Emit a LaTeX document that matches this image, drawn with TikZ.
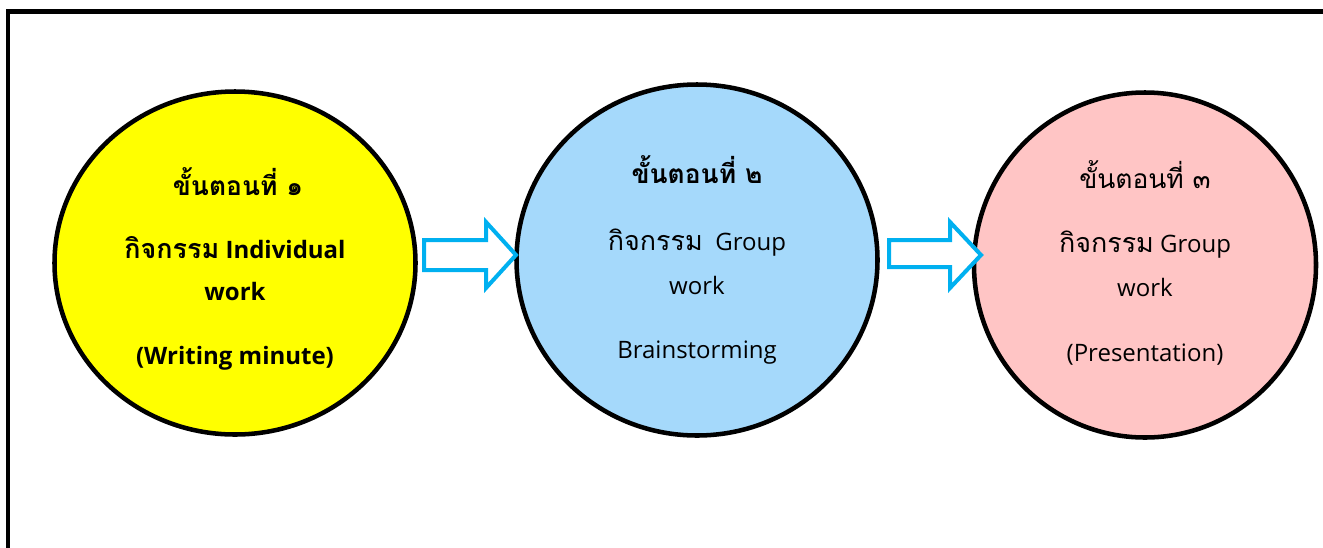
\documentclass[tikz,border=0pt]{standalone}
\usepackage{fontspec}
\setmainfont{Open Sans}
\newfontfamily\thaifont[Script=Thai,Scale=1.12]{Loma}
\newfontfamily\thaititle[Script=Thai,Scale=1.1]{Loma}
\usetikzlibrary{shapes.geometric}
\definecolor{cyanline}{HTML}{00B0F0}
\definecolor{stepyellow}{HTML}{FFFF00}
\definecolor{stepblue}{HTML}{A5D9FB}
\definecolor{steppink}{HTML}{FFC5C5}
\tikzset{
  stepcircle/.style={ellipse, draw=black, line width=3.4pt, inner sep=0pt},
  blockarrow/.style={draw=cyanline, fill=white, line width=3pt, line join=miter},
  frameline/.style={draw=black, line width=3.2pt},
  steptext/.style={font=\fontsize{18}{21}\selectfont, inner sep=0pt, anchor=center},
}
\begin{document}
\begin{tikzpicture}[x=0.75pt,y=-0.75pt]
\useasboundingbox (0,0) rectangle (1323,547);
\clip (0,0) rectangle (1323,547);
\path[frameline] (8,570) -- (8,11.5) -- (1350,11.5);

\node[stepcircle, fill=stepyellow, minimum width=361pt*0.75, minimum height=343pt*0.75] (c1) at (235,263) {};
\node[stepcircle, fill=stepblue, minimum width=361pt*0.75, minimum height=351pt*0.75] (c2) at (697,260) {};
\node[stepcircle, fill=steppink, minimum width=342pt*0.75, minimum height=345pt*0.75] (c3) at (1145,265) {};

\path[blockarrow] (424,240) -- (486,240) -- (486,222) -- (516,255) -- (486,288) -- (486,270) -- (424,270) -- cycle;
\path[blockarrow] (889,240) -- (950,240) -- (950,222) -- (981,255) -- (950,288) -- (950,267) -- (889,267) -- cycle;

\node[steptext] (t1a) at (238,182) {\bfseries\thaititle ขั้นตอนที่ ๑};
\node[steptext] (t1b) at (235,248) {\bfseries{\thaifont กิจกรรม} Individual};
\node[steptext] (t1c) at (235,291) {\bfseries work};
\node[steptext] (t1d) at (235,358) {\bfseries (Writing minute)};

\node[steptext] (t2a) at (697,170) {\bfseries\thaititle ขั้นตอนที่ ๒};
\node[steptext] (t2b) at (697,243) {{\thaifont กิจกรรม}\ \ Group};
\node[steptext] (t2c) at (697,285) {work};
\node[steptext] (t2d) at (697,353) {Brainstorming};

\node[steptext] (t3a) at (1145,175) {\thaititle ขั้นตอนที่ ๓};
\node[steptext] (t3b) at (1145,245) {{\thaifont กิจกรรม} Group};
\node[steptext] (t3c) at (1145,287) {work};
\node[steptext] (t3d) at (1145,355) {(Presentation)};
\end{tikzpicture}
\end{document}
